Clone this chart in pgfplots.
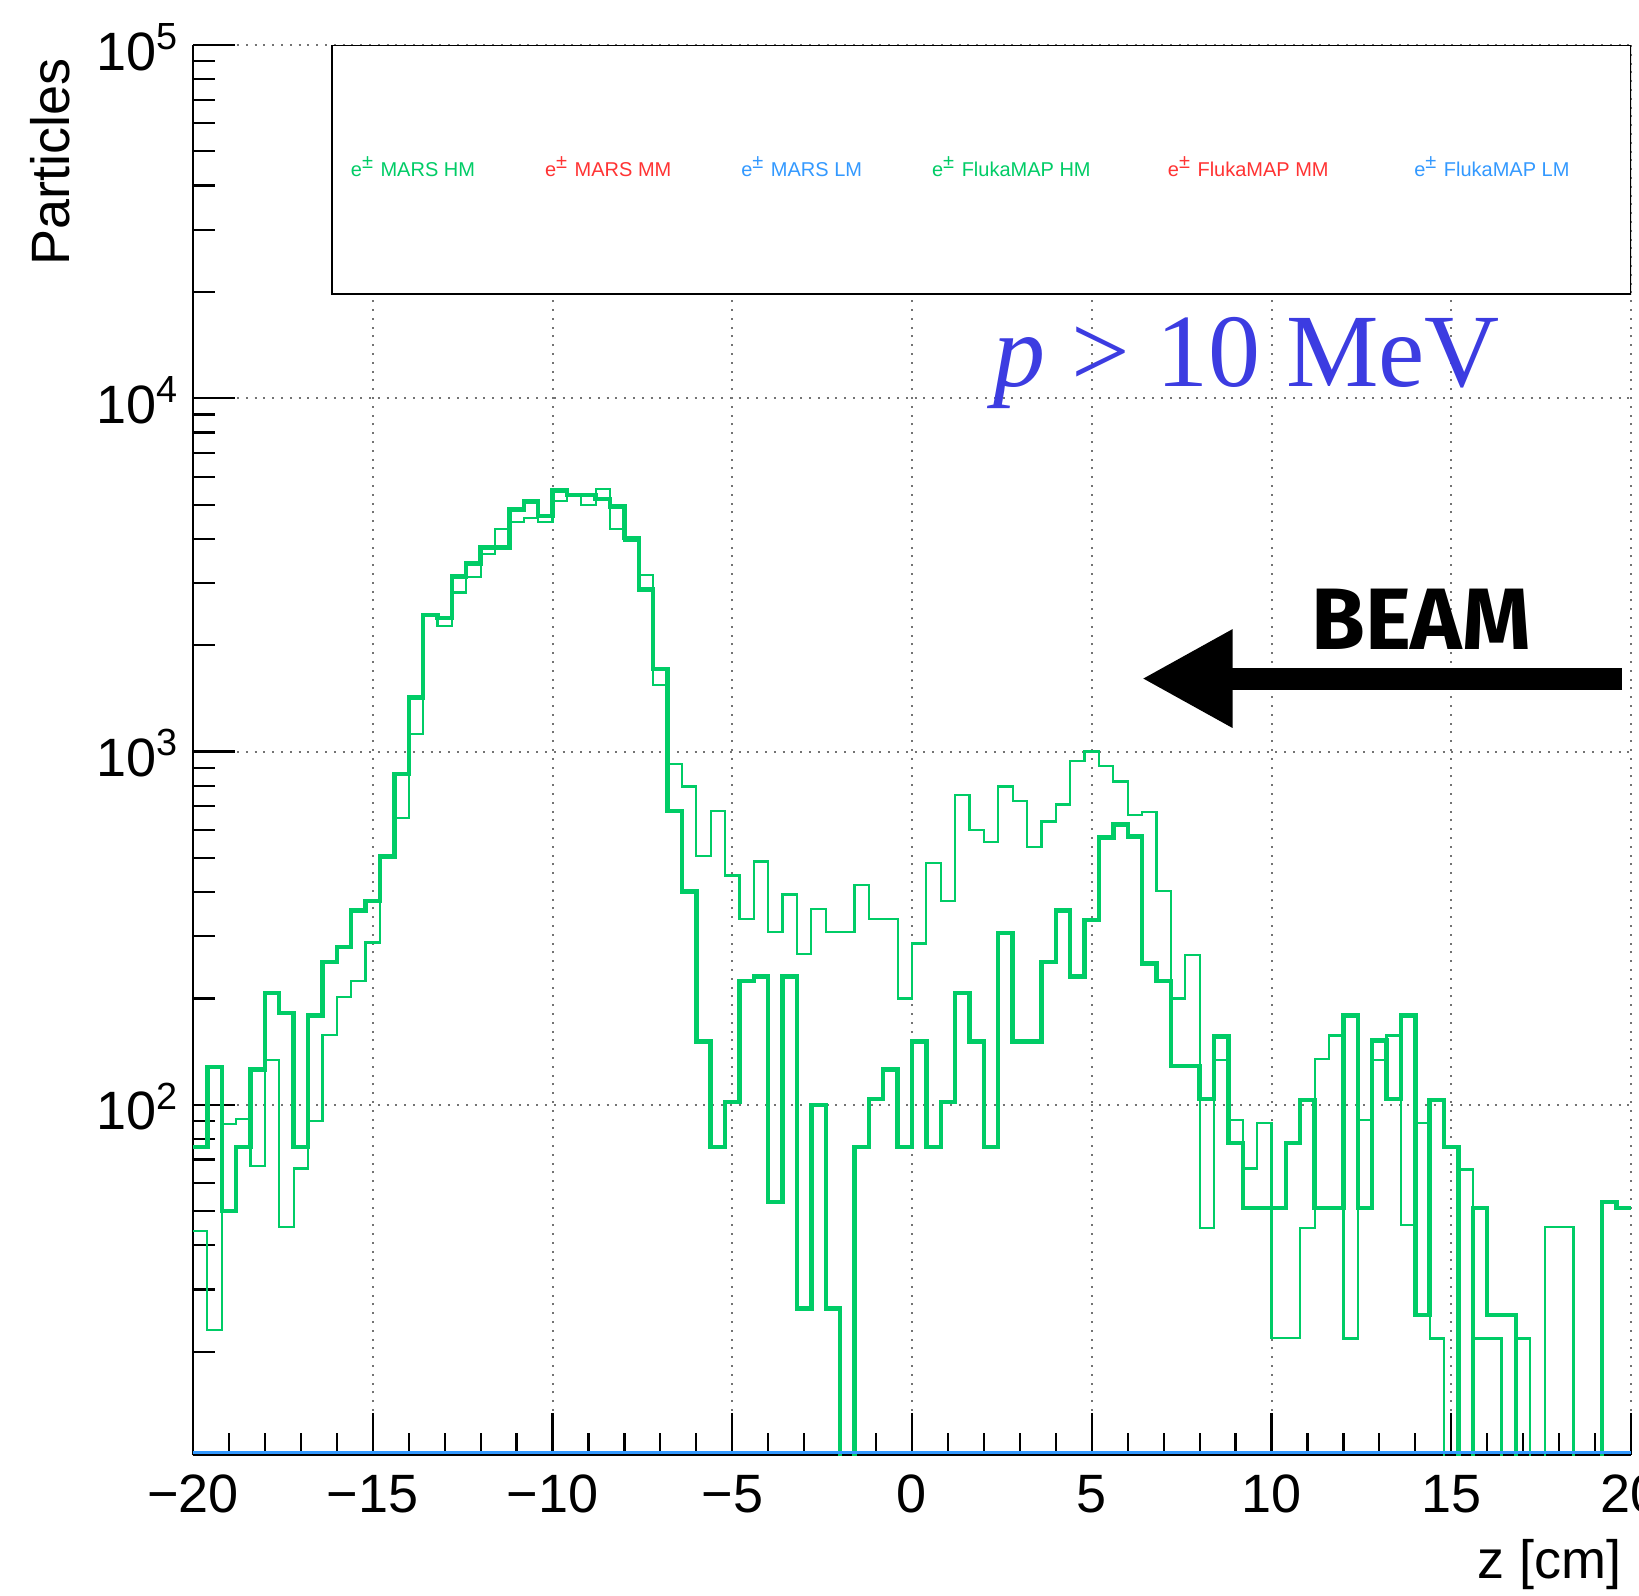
\documentclass[border=0pt]{standalone}
\usepackage{fontspec}
\setmainfont{Liberation Sans}
\newfontfamily\timesf{Liberation Serif}
\newfontfamily\beamf{Fira Sans}
\usepackage{pgfplots}
\pgfplotsset{compat=1.18}
\usetikzlibrary{arrows.meta}
\definecolor{hgreen}{RGB}{0,204,102}
\definecolor{hred}{RGB}{255,51,51}
\definecolor{hazure}{RGB}{51,153,255}
\definecolor{pblue}{RGB}{60,60,225}
\begin{document}
\begin{tikzpicture}
\useasboundingbox (-48.25pt,-35.25pt) rectangle (361.5pt,363.75pt);
\begin{axis}[
  at={(0pt,0pt)}, anchor=south west,
  scale only axis, width=359.5pt, height=352.5pt,
  xmin=-20, xmax=20, ymin=10.2, ymax=1e5,
  ymode=log,
  axis lines=left,
  axis line style={-, line width=0.55pt, black},
  x axis line style={-}, y axis line style={-},
  xtick={-20,-15,-10,-5,0,5,10,15,20},
  xticklabels={−20,−15,−10,−5,0,5,10,15,20},
  minor x tick num=4,
  ytick={100,1000,10000,100000},
  yticklabels={10\textsuperscript{2},10\textsuperscript{3},10\textsuperscript{4},10\textsuperscript{5}},
  minor ytick={20,30,40,50,60,70,80,90,200,300,400,500,600,700,800,900,2000,3000,4000,5000,6000,7000,8000,9000,20000,30000,40000,50000,60000,70000,80000,90000},
  xtick align=inside, ytick align=inside,
  major tick length=10.5pt, minor tick length=5.5pt,
  tick style={black, line width=0.55pt},
  grid=major,
  major grid style={black!55, line width=0.5pt, dash pattern=on 0.5pt off 1.7pt},
  xticklabel style={font=\fontsize{13.5}{16}\selectfont, anchor=base, inner sep=0pt, yshift=-14.4pt},
  yticklabel style={font=\fontsize{13.5}{16}\selectfont, anchor=base east, inner sep=0pt, xshift=-3.25pt, yshift=-6.3pt},
  xlabel={z [cm]}, ylabel={Particles},
  xlabel style={at={([xshift=-2.25pt, yshift=-30.75pt]rel axis cs:1,0)}, anchor=base east, inner sep=0pt, font=\fontsize{13.5}{16}\selectfont},
  ylabel style={at={([xshift=-30.75pt, yshift=-3.25pt]rel axis cs:0,1)}, anchor=base east, inner sep=0pt, font=\fontsize{13.5}{16}\selectfont},
  legend columns=6,
  legend cell align=left,
  legend style={draw=none, fill=none, at={(axis cs:-16.13,44460)}, anchor=west, xshift=2.5pt,
    font=\fontsize{5}{6}\selectfont, inner sep=0pt,
    /tikz/every even column/.append style={column sep=13.5pt}},
]
% FlukaMAP HM (thin)
\addplot[const plot, hgreen, line width=0.55pt, forget plot] table {
-20.0 44
-19.6 23
-19.2 88
-18.8 91
-18.4 67
-18.0 134
-17.6 45
-17.2 66
-16.8 90
-16.4 158
-16.0 202
-15.6 224
-15.2 288
-14.8 500
-14.4 647
-14.0 1119
-13.6 2440
-13.2 2265
-12.8 2820
-12.4 3126
-12.0 3622
-11.6 4276
-11.2 4457
-10.8 4584
-10.4 4457
-10.0 5106
-9.6 5324
-9.2 4976
-8.8 5525
-8.4 4276
-8.0 3935
-7.6 3155
-7.2 1545
-6.8 920
-6.4 796
-6.0 505
-5.6 680
-5.2 446
-4.8 336
-4.4 488
-4.0 309
-3.6 394
-3.2 267
-2.8 359
-2.4 309
-2.0 309
-1.6 419
-1.2 336
-0.8 336
-0.4 200
0.0 286
0.4 484
0.8 378
1.2 754
1.6 600
2.0 555
2.4 796
2.8 723
3.2 537
3.6 634
4.0 708
4.4 940
4.8 1000
5.2 909
5.6 823
6.0 661
6.4 674
6.8 402
7.2 200
7.6 265
8.0 44.7
8.4 134
8.8 90.5
9.2 66
9.6 89
10.0 21.9
10.4 21.9
10.8 44.7
11.2 135
11.6 157
12.0 21.8
12.4 90.5
12.8 134
13.2 157
13.6 45.7
14.0 89
14.4 21.8
14.8 1
15.2 65.6
15.6 21.8
16.0 21.8
16.4 1
16.8 21.8
17.2 1
17.6 45.2
18.0 45.2
18.4 1
18.8 1
19.2 1
19.6 1
20.0 1
};
% MARS HM (thick)
\addplot[const plot, hgreen, line width=1.1pt, forget plot] table {
-20.0 76
-19.6 128
-19.2 50
-18.8 76
-18.4 126
-18.0 207
-17.6 182
-17.2 76
-16.8 179
-16.4 254
-16.0 280
-15.6 355
-15.2 378
-14.8 505
-14.4 865
-14.0 1423
-13.6 2438
-13.2 2390
-12.8 3126
-12.4 3404
-12.0 3776
-11.6 3776
-11.2 4843
-10.8 5106
-10.4 4644
-10.0 5483
-9.6 5324
-9.2 5324
-8.8 5185
-8.4 4941
-8.0 4020
-7.6 2877
-7.2 1714
-6.8 680
-6.4 402
-6.0 151
-5.6 76
-5.2 102
-4.8 224
-4.4 231
-4.0 53
-3.6 231
-3.2 26.5
-2.8 100
-2.4 26.5
-2.0 1
-1.6 76
-1.2 104
-0.8 126
-0.4 76
0.0 151
0.4 76
0.8 102
1.2 207
1.6 151
2.0 76
2.4 306
2.8 151
3.2 151
3.6 254
4.0 355
4.4 231
4.8 334
5.2 571
5.6 621
6.0 575
6.4 251
6.8 224
7.2 129
7.6 129
8.0 104
8.4 156
8.8 78
9.2 51
9.6 51
10.0 51
10.4 78
10.8 103
11.2 51
11.6 51
12.0 179
12.4 51
12.8 152
13.2 104
13.6 179
14.0 25.4
14.4 103
14.8 76
15.2 1
15.6 51
16.0 25.4
16.4 25.4
16.8 1
17.2 1
17.6 1
18.0 1
18.4 1
18.8 1
19.2 53
19.6 51
20.0 51
};
% LM series lie at the bottom of the frame
\addplot[hazure, line width=0.8pt, forget plot] coordinates {(-20,10.36) (20,10.36)};
% legend frame
\draw[line width=0.6pt, fill=white] (axis cs:-16.13,19750) rectangle (axis cs:20,1e5);
\addlegendimage{empty legend}\addlegendentry{\textcolor{hgreen}{e\textsuperscript{±} MARS HM}}
\addlegendimage{empty legend}\addlegendentry{\textcolor{hred}{e\textsuperscript{±} MARS MM}}
\addlegendimage{empty legend}\addlegendentry{\textcolor{hazure}{e\textsuperscript{±} MARS LM}}
\addlegendimage{empty legend}\addlegendentry{\textcolor{hgreen}{e\textsuperscript{±} FlukaMAP HM}}
\addlegendimage{empty legend}\addlegendentry{\hspace*{1.8pt}\textcolor{hred}{e\textsuperscript{±} FlukaMAP MM}}
\addlegendimage{empty legend}\addlegendentry{\hspace*{3.9pt}\textcolor{hazure}{e\textsuperscript{±} FlukaMAP LM}}
% annotations
\node[anchor=base west, inner sep=0pt, text=pblue, font=\timesf\fontsize{26}{28}\selectfont] at (axis cs:2.25,10800) {\textit{p} > 10 MeV};
\draw[line width=5.5pt, -{Triangle[length=22.7pt, width=23pt]}] (axis cs:19.75,1609) -- (axis cs:6.39,1609);
\node[anchor=base, inner sep=0pt, font=\beamf\bfseries\fontsize{21.8}{24}\selectfont] at (axis cs:14.16,1944) {BEAM};
\end{axis}
\end{tikzpicture}
\end{document}
